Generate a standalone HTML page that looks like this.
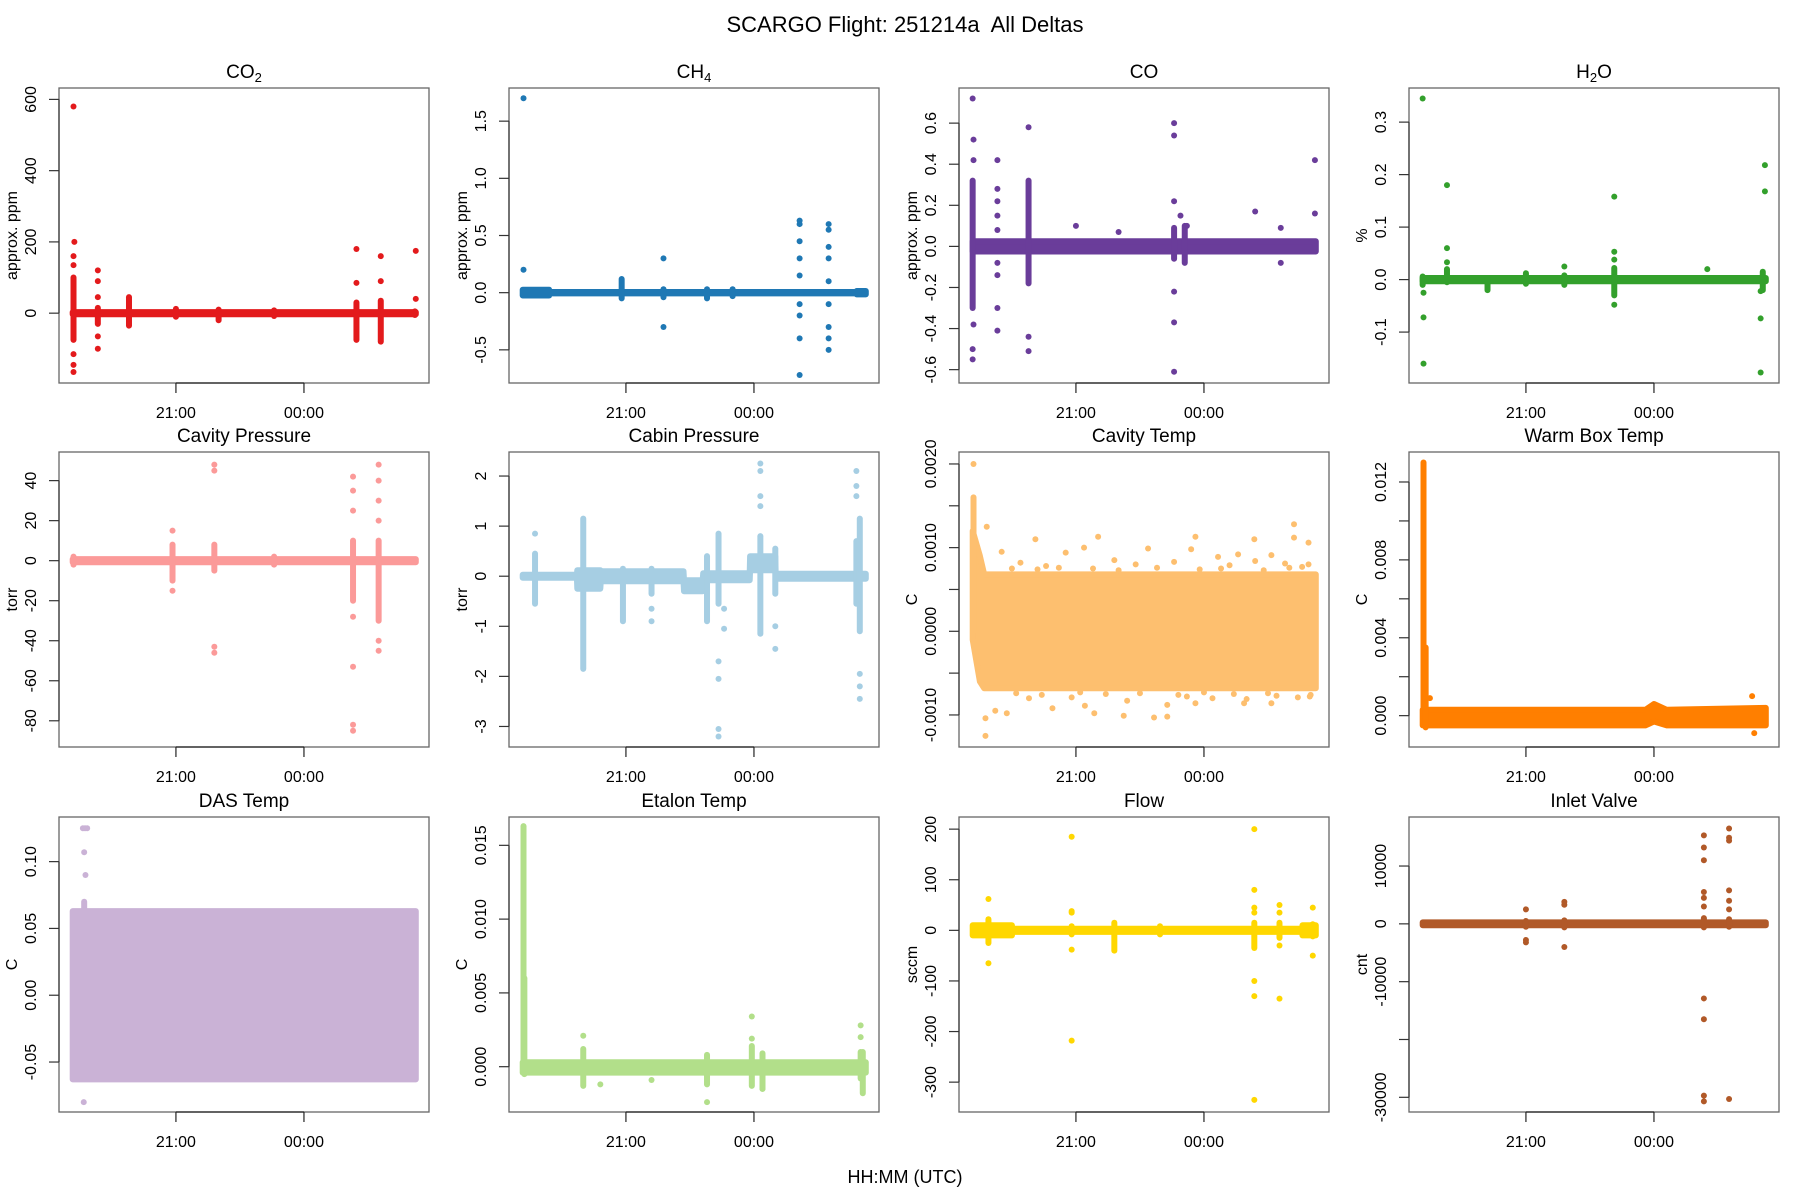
<!DOCTYPE html>
<html><head><meta charset="utf-8"><title>SCARGO Flight 251214a All Deltas</title>
<style>
html,body{margin:0;padding:0;background:#fff;}
svg{display:block;font-family:"Liberation Sans",Arial,sans-serif;}
</style></head>
<body>
<svg id="fig" width="1800" height="1200" viewBox="0 0 1800 1200" xmlns="http://www.w3.org/2000/svg">
<rect width="1800" height="1200" fill="#fff"/>
<text x="905" y="32" font-size="22" text-anchor="middle" style="white-space:pre">SCARGO Flight: 251214a  All Deltas</text>
<text x="905" y="1183" font-size="18" text-anchor="middle">HH:MM (UTC)</text>
</svg>
<script>
// ---- shared x axis data (hours; 24+ = after midnight) ----
const xTickVals = [21, 24];
const xTickLabels = ["21:00", "00:00"];

// ---- CO2 ----
const co2BandT = [18.58, 26.62];
const co2BandLo = [-3, -3];
const co2BandHi = [3, 3];
const co2SpikeT = [18.6, 19.17, 19.9, 21.0, 22.0, 23.3, 25.23, 25.8, 26.6];
const co2SpikeLo = [-75, -30, -35, -10, -20, -8, -75, -80, -5];
const co2SpikeHi = [100, 15, 45, 12, 10, 8, 30, 35, 5];
const co2PtT = [18.6, 18.62, 18.6, 18.6, 18.6, 18.6, 18.6, 19.17, 19.17, 19.17, 19.17, 19.17, 25.23, 25.23, 25.8, 25.8, 26.62, 26.62];
const co2PtV = [580, 200, 160, 135, -115, -145, -165, 120, 90, 45, -100, -65, 180, 85, 160, 90, 175, 40];

// ---- CH4 ----
const ch4BandT = [18.58, 19.2, 19.21, 26.4, 26.41, 26.62];
const ch4BandLo = [-0.025, -0.025, -0.006, -0.006, -0.015, -0.015];
const ch4BandHi = [0.025, 0.025, 0.006, 0.006, 0.015, 0.015];
const ch4SpikeT = [20.9, 21.88, 22.9, 23.5];
const ch4SpikeLo = [-0.05, -0.04, -0.05, -0.03];
const ch4SpikeHi = [0.12, 0.03, 0.03, 0.03];
const ch4PtT = [18.6, 18.6, 21.88, 21.88, 25.07, 25.07, 25.07, 25.07, 25.07, 25.07, 25.07, 25.07, 25.07, 25.75, 25.75, 25.75, 25.75, 25.75, 25.75, 25.75, 25.75, 25.75];
const ch4PtV = [1.7, 0.2, 0.3, -0.3, 0.63, 0.6, 0.45, 0.3, 0.15, -0.1, -0.2, -0.4, -0.72, 0.6, 0.55, 0.4, 0.3, 0.1, -0.1, -0.3, -0.4, -0.5];

// ---- CO ----
const coBandT = [18.58, 26.62];
const coBandLo = [-0.025, -0.025];
const coBandHi = [0.025, 0.025];
const coSpikeT = [18.58, 19.89, 23.3, 23.55];
const coSpikeLo = [-0.3, -0.18, -0.06, -0.08];
const coSpikeHi = [0.32, 0.32, 0.09, 0.1];
const coPtT = [18.58, 18.6, 18.6, 18.58, 18.58, 18.6, 19.16, 19.16, 19.16, 19.16, 19.16, 19.16, 19.16, 19.16, 19.16, 19.89, 19.89, 19.89, 23.3, 23.3, 23.3, 23.3, 23.3, 23.3, 21.0, 22.0, 25.2, 25.8, 25.8, 26.6, 26.6, 23.45, 23.6];
const coPtV = [0.72, 0.52, 0.42, -0.55, -0.5, -0.38, 0.42, 0.28, 0.22, 0.15, 0.08, -0.08, -0.14, -0.3, -0.41, 0.58, -0.44, -0.51, 0.6, 0.54, 0.22, -0.22, -0.37, -0.61, 0.1, 0.07, 0.17, 0.09, -0.08, 0.42, 0.16, 0.15, 0.1];

// ---- H2O ----
const h2oBandT = [18.58, 26.62];
const h2oBandLo = [-0.003, -0.003];
const h2oBandHi = [0.003, 0.003];
const h2oSpikeT = [18.58, 19.15, 20.1, 21.0, 21.9, 23.07, 26.55];
const h2oSpikeLo = [-0.01, -0.005, -0.02, -0.008, -0.01, -0.03, -0.02];
const h2oSpikeHi = [0.006, 0.02, 0.003, 0.012, 0.008, 0.022, 0.015];
const h2oPtT = [18.58, 18.6, 18.6, 18.6, 19.15, 19.15, 19.15, 23.07, 23.07, 23.07, 23.07, 21.9, 25.25, 26.5, 26.5, 26.5, 26.6, 26.6];
const h2oPtV = [0.345, -0.025, -0.072, -0.16, 0.18, 0.06, 0.033, 0.158, 0.053, 0.038, -0.048, 0.025, 0.02, -0.022, -0.074, -0.177, 0.218, 0.168];

// ---- Cavity Pressure ----
const cavpBandT = [18.58, 26.62];
const cavpBandLo = [-0.8, -0.8];
const cavpBandHi = [0.8, 0.8];
const cavpSpikeT = [18.6, 20.92, 21.9, 23.3, 25.15, 25.75];
const cavpSpikeLo = [-2, -10, -5, -2, -20, -30];
const cavpSpikeHi = [2, 8, 8, 2, 10, 10];
const cavpPtT = [20.92, 20.92, 21.9, 21.9, 21.9, 21.9, 25.15, 25.15, 25.15, 25.15, 25.15, 25.15, 25.15, 25.75, 25.75, 25.75, 25.75, 25.75, 25.75];
const cavpPtV = [15, -15, 48, 45, -43, -46, -85, -82, -53, 42, 35, 25, -28, 48, 40, 30, 20, -40, -45];

// ---- Cabin Pressure ----
const cabBandT = [18.58, 19.85, 19.86, 20.4, 20.41, 22.35, 22.36, 22.8, 22.81, 23.9, 23.91, 24.5, 24.51, 26.62];
const cabBandLo = [-0.03, -0.03, -0.25, -0.25, -0.1, -0.1, -0.3, -0.3, -0.08, -0.08, 0.12, 0.12, -0.05, -0.05];
const cabBandHi = [0.03, 0.03, 0.12, 0.12, 0.1, 0.1, -0.08, -0.08, 0.06, 0.06, 0.4, 0.4, 0.05, 0.05];
const cabSpikeT = [18.87, 20.0, 20.93, 21.6, 22.9, 23.17, 24.15, 24.5, 26.4, 26.48];
const cabSpikeLo = [-0.55, -1.85, -0.9, -0.35, -0.9, -0.55, -1.15, -0.35, -0.55, -1.1];
const cabSpikeHi = [0.45, 1.15, 0.15, 0.15, 0.4, 0.85, 0.8, 0.55, 0.7, 1.15];
const cabPtT = [18.87, 21.6, 21.6, 23.17, 23.17, 23.17, 23.17, 23.3, 23.3, 24.15, 24.15, 24.15, 24.15, 24.5, 24.5, 26.4, 26.4, 26.4, 26.48, 26.48, 26.48];
const cabPtV = [0.85, -0.65, -0.9, -1.7, -2.05, -3.05, -3.2, -1.05, -0.65, 2.25, 2.1, 1.6, 1.4, -1.0, -1.45, 2.1, 1.8, 1.6, -1.95, -2.2, -2.45];

// ---- Cavity Temp ----
const cavtBandT = [18.58, 18.75, 18.85, 26.62];
const cavtBandLo = [-0.0001, -0.0006, -0.00068, -0.00068];
const cavtBandHi = [0.0012, 0.0009, 0.00068, 0.00068];
const cavtSpikeT = [18.6];
const cavtSpikeLo = [0.0];
const cavtSpikeHi = [0.0016];
const cavtPtT = [18.6, 18.91, 20.05, 21.52, 21.19, 22.69, 23.8, 25.18, 26.11, 26.11, 26.45, 19.26, 20.76, 23.7, 25.58, 24.8, 24.33, 26.45, 18.88, 18.88, 19.11, 19.38, 20.45, 21.21, 21.43, 22.12, 22.83, 23.14, 23.14, 23.8, 24.94, 25.58, 26.48, 19.7, 20.3, 21.9, 22.4, 23.3, 24.6, 25.2, 25.9, 26.3, 19.9, 20.9, 22.2, 23.6, 24.2, 25.0, 25.7, 26.2, 19.5, 20.1, 20.6, 21.4, 22.0, 22.9, 23.9, 24.4, 25.4, 26.0, 19.6, 20.2, 21.1, 21.7, 22.5, 23.4, 24.0, 24.7, 25.5, 26.5];
const cavtPtV = [0.002, 0.00125, 0.0011, 0.00113, 0.001, 0.00099, 0.00113, 0.0011, 0.00128, 0.00112, 0.00106, 0.00095, 0.00094, 0.00098, 0.00091, 0.00092, 0.00089, 0.0008, -0.00125, -0.00104, -0.00095, -0.00098, -0.00092, -0.00089, -0.00098, -0.00101, -0.00103, -0.00102, -0.00088, -0.00086, -0.00086, -0.00086, -0.00078, 0.00082, 0.00078, 0.00085, 0.0008, 0.00083, 0.00079, 0.00084, 0.00081, 0.00077, -0.0008, -0.00079, -0.00083, -0.00078, -0.0008, -0.00081, -0.00077, -0.00079, 0.00075, 0.00074, 0.00076, 0.00075, 0.00073, 0.00076, 0.00074, 0.00075, 0.00073, 0.00076, -0.00074, -0.00076, -0.00073, -0.00075, -0.00074, -0.00076, -0.00073, -0.00075, -0.00074, -0.00076];

// ---- Warm Box Temp ----
const wbBandT = [18.58, 23.8, 24.0, 24.3, 26.62];
const wbBandLo = [-0.0005, -0.0005, -0.0003, -0.0005, -0.0005];
const wbBandHi = [0.0003, 0.0003, 0.0006, 0.0003, 0.0004];
const wbSpikeT = [18.6, 18.65];
const wbSpikeLo = [0.0, -0.0006];
const wbSpikeHi = [0.013, 0.0035];
const wbPtT = [18.75, 26.3, 26.35];
const wbPtV = [0.0009, 0.001, -0.0009];

// ---- DAS Temp ----
const dasBandT = [18.58, 26.62];
const dasBandLo = [-0.063, -0.063];
const dasBandHi = [0.063, 0.063];
const dasSpikeT = [18.85];
const dasSpikeLo = [0.064];
const dasSpikeHi = [0.07];
const dasPtT = [18.82, 18.87, 18.92, 18.85, 18.88, 18.84];
const dasPtV = [0.125, 0.125, 0.125, 0.107, 0.09, -0.08];

// ---- Etalon Temp ----
const etBandT = [18.58, 26.62];
const etBandLo = [-0.0004, -0.0004];
const etBandHi = [0.0003, 0.0003];
const etSpikeT = [18.6, 18.62, 20.0, 22.9, 23.95, 24.2, 26.5, 26.55];
const etSpikeLo = [0.0, -0.0005, -0.0013, -0.0012, -0.0013, -0.0015, -0.0008, -0.0018];
const etSpikeHi = [0.0163, 0.006, 0.0012, 0.0008, 0.0014, 0.0009, 0.001, 0.001];
const etPtT = [20.4, 21.6, 22.9, 24.2, 20.0, 23.95, 23.95, 26.5, 26.5];
const etPtV = [-0.0012, -0.0009, -0.0024, -0.0015, 0.0021, 0.0034, 0.0019, 0.0028, 0.002];

// ---- Flow ----
const flowBandT = [18.58, 19.5, 19.51, 26.3, 26.31, 26.62];
const flowBandLo = [-10, -10, -3, -3, -10, -10];
const flowBandHi = [10, 10, 3, 3, 10, 10];
const flowSpikeT = [18.95, 20.9, 21.9, 22.97, 25.18, 25.77, 26.55];
const flowSpikeLo = [-25, -8, -40, -8, -35, -15, -12];
const flowSpikeHi = [22, 8, 15, 8, 15, 15, 12];
const flowPtT = [18.95, 18.95, 20.9, 20.9, 20.9, 20.9, 20.9, 25.18, 25.18, 25.18, 25.18, 25.18, 25.18, 25.18, 25.77, 25.77, 25.77, 25.77, 26.55, 26.55];
const flowPtV = [62, -65, 185, 38, 35, -38, -218, 200, 80, 45, 35, -100, -130, -335, 50, 35, -30, -135, 45, -50];

// ---- Inlet Valve ----
const inBandT = [18.58, 26.62];
const inBandLo = [-250, -250];
const inBandHi = [250, 250];
const inSpikeT = [21.0, 21.9, 25.17, 25.76];
const inSpikeLo = [-500, -600, -600, -500];
const inSpikeHi = [500, 600, 1000, 800];
const inPtT = [21.0, 21.0, 21.0, 21.9, 21.9, 21.9, 25.17, 25.17, 25.17, 25.17, 25.17, 25.17, 25.17, 25.17, 25.17, 25.17, 25.76, 25.76, 25.76, 25.76, 25.76, 25.76, 25.76];
const inPtV = [2500, -2800, -3200, -4000, 3300, 3800, 15300, 13200, 11000, 5500, 4500, 3000, -12900, -16500, -29700, -30700, 16500, 14900, 14400, 5800, 4000, 2500, -30300];

const NS = "http://www.w3.org/2000/svg";
const svg = document.getElementById('fig');
const colLeft = [59, 509, 959, 1409], rowTop = [88, 452, 817];
const PW = 370, PH = 295, XMIN = 18.26, XMAX = 26.93, R = 3;

function el(tag, attrs, parent) {
  const e = document.createElementNS(NS, tag);
  for (const k in attrs) e.setAttribute(k, attrs[k]);
  (parent || svg).appendChild(e);
  return e;
}

const panels = [
  {key:'co2', title:['CO','2',''], yl:'approx. ppm', ylim:[-196,632], ticks:[0,200,400,600], labels:['0','200','400','600'], color:'#E31A1C', d:[co2BandT,co2BandLo,co2BandHi,co2SpikeT,co2SpikeLo,co2SpikeHi,co2PtT,co2PtV]},
  {key:'ch4', title:['CH','4',''], yl:'approx. ppm', ylim:[-0.79,1.79], ticks:[-0.5,0,0.5,1,1.5], labels:['-0.5','0.0','0.5','1.0','1.5'], color:'#1F78B4', d:[ch4BandT,ch4BandLo,ch4BandHi,ch4SpikeT,ch4SpikeLo,ch4SpikeHi,ch4PtT,ch4PtV]},
  {key:'co', title:['CO','',''], yl:'approx. ppm', ylim:[-0.665,0.771], ticks:[-0.6,-0.4,-0.2,0,0.2,0.4,0.6], labels:['-0.6','-0.4','-0.2','0.0','0.2','0.4','0.6'], color:'#6A3D9A', d:[coBandT,coBandLo,coBandHi,coSpikeT,coSpikeLo,coSpikeHi,coPtT,coPtV]},
  {key:'h2o', title:['H','2','O'], yl:'%', ylim:[-0.197,0.365], ticks:[-0.1,0,0.1,0.2,0.3], labels:['-0.1','0.0','0.1','0.2','0.3'], color:'#33A02C', d:[h2oBandT,h2oBandLo,h2oBandHi,h2oSpikeT,h2oSpikeLo,h2oSpikeHi,h2oPtT,h2oPtV]},
  {key:'cavity-pressure', title:['Cavity Pressure','',''], yl:'torr', ylim:[-93.1,54.3], ticks:[-80,-60,-40,-20,0,20,40], labels:['-80','-60','-40','-20','0','20','40'], color:'#FB9A99', d:[cavpBandT,cavpBandLo,cavpBandHi,cavpSpikeT,cavpSpikeLo,cavpSpikeHi,cavpPtT,cavpPtV]},
  {key:'cabin-pressure', title:['Cabin Pressure','',''], yl:'torr', ylim:[-3.41,2.48], ticks:[-3,-2,-1,0,1,2], labels:['-3','-2','-1','0','1','2'], color:'#A6CEE3', d:[cabBandT,cabBandLo,cabBandHi,cabSpikeT,cabSpikeLo,cabSpikeHi,cabPtT,cabPtV]},
  {key:'cavity-temp', title:['Cavity Temp','',''], yl:'C', ylim:[-0.001383,0.002143], ticks:[-0.001,-0.0005,0,0.0005,0.001,0.0015,0.002], labels:['-0.0010','','0.0000','','0.0010','','0.0020'], color:'#FDBF6F', d:[cavtBandT,cavtBandLo,cavtBandHi,cavtSpikeT,cavtSpikeLo,cavtSpikeHi,cavtPtT,cavtPtV]},
  {key:'warm-box-temp', title:['Warm Box Temp','',''], yl:'C', ylim:[-0.00161,0.01354], ticks:[0,0.002,0.004,0.006,0.008,0.01,0.012], labels:['0.000','','0.004','','0.008','','0.012'], color:'#FF7F00', d:[wbBandT,wbBandLo,wbBandHi,wbSpikeT,wbSpikeLo,wbSpikeHi,wbPtT,wbPtV]},
  {key:'das-temp', title:['DAS Temp','',''], yl:'C', ylim:[-0.0874,0.1334], ticks:[-0.05,0,0.05,0.1], labels:['-0.05','0.00','0.05','0.10'], color:'#CAB2D6', d:[dasBandT,dasBandLo,dasBandHi,dasSpikeT,dasSpikeLo,dasSpikeHi,dasPtT,dasPtV]},
  {key:'etalon-temp', title:['Etalon Temp','',''], yl:'C', ylim:[-0.00307,0.01692], ticks:[0,0.005,0.01,0.015], labels:['0.000','0.005','0.010','0.015'], color:'#B2DF8A', d:[etBandT,etBandLo,etBandHi,etSpikeT,etSpikeLo,etSpikeHi,etPtT,etPtV]},
  {key:'flow', title:['Flow','',''], yl:'sccm', ylim:[-359,224], ticks:[-300,-200,-100,0,100,200], labels:['-300','-200','-100','0','100','200'], color:'#FFD700', d:[flowBandT,flowBandLo,flowBandHi,flowSpikeT,flowSpikeLo,flowSpikeHi,flowPtT,flowPtV]},
  {key:'inlet-valve', title:['Inlet Valve','',''], yl:'cnt', ylim:[-32540,18480], ticks:[-30000,-20000,-10000,0,10000], labels:['-30000','','-10000','0','10000'], color:'#B15928', d:[inBandT,inBandLo,inBandHi,inSpikeT,inSpikeLo,inSpikeHi,inPtT,inPtV]}
];

panels.forEach((p, i) => {
  const L = colLeft[i % 4], T = rowTop[Math.floor(i / 4)];
  const xs = t => L + (t - XMIN) / (XMAX - XMIN) * PW;
  const ys = v => T + PH - (v - p.ylim[0]) / (p.ylim[1] - p.ylim[0]) * PH;
  const g = el('g', {});
  
  
  const clipId = 'clip' + i;
  const cp = el('clipPath', {id: clipId}, g);
  el('rect', {x: L, y: T, width: PW, height: PH}, cp);
  const marks = el('g', {'clip-path': 'url(#' + clipId + ')', fill: p.color, stroke: p.color}, g);
  
  
  const [bT, bLo, bHi, sT, sLo, sHi, pT, pV] = p.d;
  let pts = [];
  for (let k = 0; k < bT.length; k++) pts.push(xs(bT[k]).toFixed(1) + ',' + ys(bHi[k]).toFixed(1));
  for (let k = bT.length - 1; k >= 0; k--) pts.push(xs(bT[k]).toFixed(1) + ',' + ys(bLo[k]).toFixed(1));
  const band = el('polygon', {points: pts.join(' '), 'stroke-width': 2 * R, 'stroke-linejoin': 'round'}, marks);
  
  
  for (let k = 0; k < sT.length; k++) {
    const ln = el('line', {x1: xs(sT[k]), x2: xs(sT[k]), y1: ys(sHi[k]), y2: ys(sLo[k]), 'stroke-width': 2 * R, 'stroke-linecap': 'round'}, marks);
    
    
  }
  for (let k = 0; k < pT.length; k++) {
    const c = el('circle', {cx: xs(pT[k]), cy: ys(pV[k]), r: R, stroke: 'none'}, marks);
    
    
  }
  const fr = el('rect', {x: L, y: T, width: PW, height: PH, fill: 'none', stroke: '#666', 'stroke-width': 1.3}, g);
  
  
  const tt = el('text', {x: L + PW / 2, y: T - 10, 'font-size': 19, 'text-anchor': 'middle'}, g);
  
  
  tt.appendChild(document.createTextNode(p.title[0]));
  if (p.title[1]) {
    const sub = el('tspan', {'font-size': 13, dy: 4}, tt);
    sub.textContent = p.title[1];
    const rest = el('tspan', {dy: -4}, tt);
    rest.textContent = p.title[2];
  }
  const xa = el('g', {stroke: '#222', 'stroke-width': 1.2}, g);
  
  
  el('line', {x1: xs(xTickVals[0]), x2: xs(xTickVals[xTickVals.length - 1]), y1: T + PH, y2: T + PH}, xa);
  xTickVals.forEach((v, k) => {
    el('line', {x1: xs(v), x2: xs(v), y1: T + PH, y2: T + PH + 10}, xa);
    const lb = el('text', {x: xs(v), y: T + PH + 35, 'font-size': 16, 'text-anchor': 'middle', stroke: 'none', fill: '#000'}, xa);
    
    
    lb.textContent = xTickLabels[k];
  });
  const ya = el('g', {stroke: '#333', 'stroke-width': 1.2}, g);
  
  
  el('line', {x1: L, x2: L, y1: ys(p.ticks[0]), y2: ys(p.ticks[p.ticks.length - 1])}, ya);
  p.ticks.forEach((v, k) => {
    el('line', {x1: L - 10, x2: L, y1: ys(v), y2: ys(v)}, ya);
    if (p.labels[k]) {
      const lb = el('text', {x: L - 23, y: ys(v), 'font-size': 16, 'text-anchor': 'middle', stroke: 'none', fill: '#000', transform: 'rotate(-90 ' + (L - 23) + ' ' + ys(v) + ')'}, ya);
      
      
      lb.textContent = p.labels[k];
    }
  });
  const yx = L - 42, yy = T + PH / 2;
  const yl = el('text', {x: yx, y: yy, 'font-size': 16, 'text-anchor': 'middle', transform: 'rotate(-90 ' + yx + ' ' + yy + ')'}, g);
  
  
  yl.textContent = p.yl;
});
</script>
</body></html>
